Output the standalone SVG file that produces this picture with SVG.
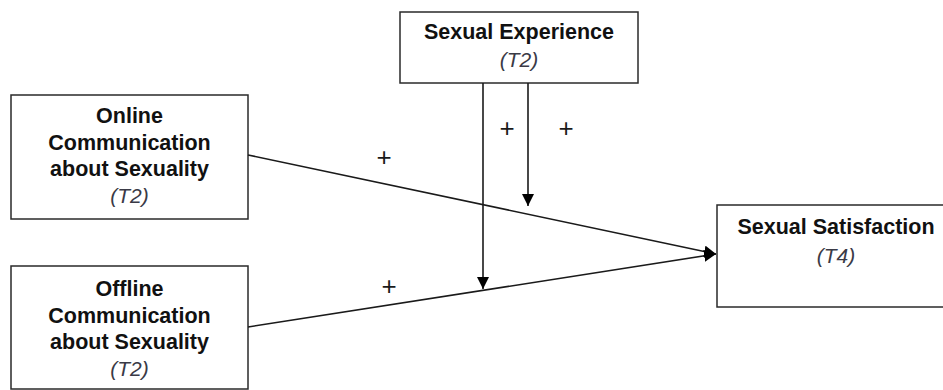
<svg xmlns="http://www.w3.org/2000/svg" width="943" height="390" viewBox="0 0 943 390">
<style>
.box{fill:#fff;stroke:#2a2a2a;stroke-width:1.5}
.t{font-family:"Liberation Sans",Arial,sans-serif;font-size:21.5px;font-weight:bold;fill:#111;text-anchor:middle}
.i{font-family:"Liberation Sans",Arial,sans-serif;font-size:21px;font-style:italic;fill:#3a3a46;text-anchor:middle}
.p{font-family:"Liberation Sans",Arial,sans-serif;font-size:26px;fill:#1a1a1a;text-anchor:middle}
.ln{stroke:#1a1a1a;stroke-width:1.6;fill:none}
</style>
<defs>
<marker id="ah" viewBox="0 0 12 12" refX="12" refY="6" markerWidth="12" markerHeight="12" markerUnits="userSpaceOnUse" orient="auto">
<path d="M0,0 L12,6 L0,12 Z" fill="#000"/>
</marker>
</defs>
<rect width="943" height="390" fill="#fff"/>
<g id="experience">
<rect class="box" x="400" y="12" width="238" height="71"/>
<text class="t" x="519" y="39">Sexual Experience</text>
<text class="i" x="519" y="67">(T2)</text>
</g>
<g id="online">
<rect class="box" x="11" y="95" width="237" height="124"/>
<text class="t" x="129.5" y="123">Online</text>
<text class="t" x="129.5" y="150">Communication</text>
<text class="t" x="129.5" y="176">about Sexuality</text>
<text class="i" x="129.5" y="203">(T2)</text>
</g>
<g id="offline">
<rect class="box" x="11" y="266" width="237" height="123"/>
<text class="t" x="129.5" y="296">Offline</text>
<text class="t" x="129.5" y="323">Communication</text>
<text class="t" x="129.5" y="349">about Sexuality</text>
<text class="i" x="129.5" y="376">(T2)</text>
</g>
<g id="satisfaction">
<rect class="box" x="717" y="205" width="240" height="102"/>
<text class="t" x="836" y="234">Sexual Satisfaction</text>
<text class="i" x="836" y="263">(T4)</text>
</g>
<g id="connectors">
<line class="ln" x1="248" y1="155" x2="716" y2="254" marker-end="url(#ah)"/>
<line class="ln" x1="248" y1="327" x2="716" y2="254" marker-end="url(#ah)"/>
<line class="ln" x1="483" y1="83" x2="483" y2="289" marker-end="url(#ah)"/>
<line class="ln" x1="528" y1="83" x2="528" y2="206" marker-end="url(#ah)"/>
<text class="p" x="384" y="166">+</text>
<text class="p" x="507" y="137">+</text>
<text class="p" x="566" y="137">+</text>
<text class="p" x="389" y="295">+</text>
</g>
</svg>
